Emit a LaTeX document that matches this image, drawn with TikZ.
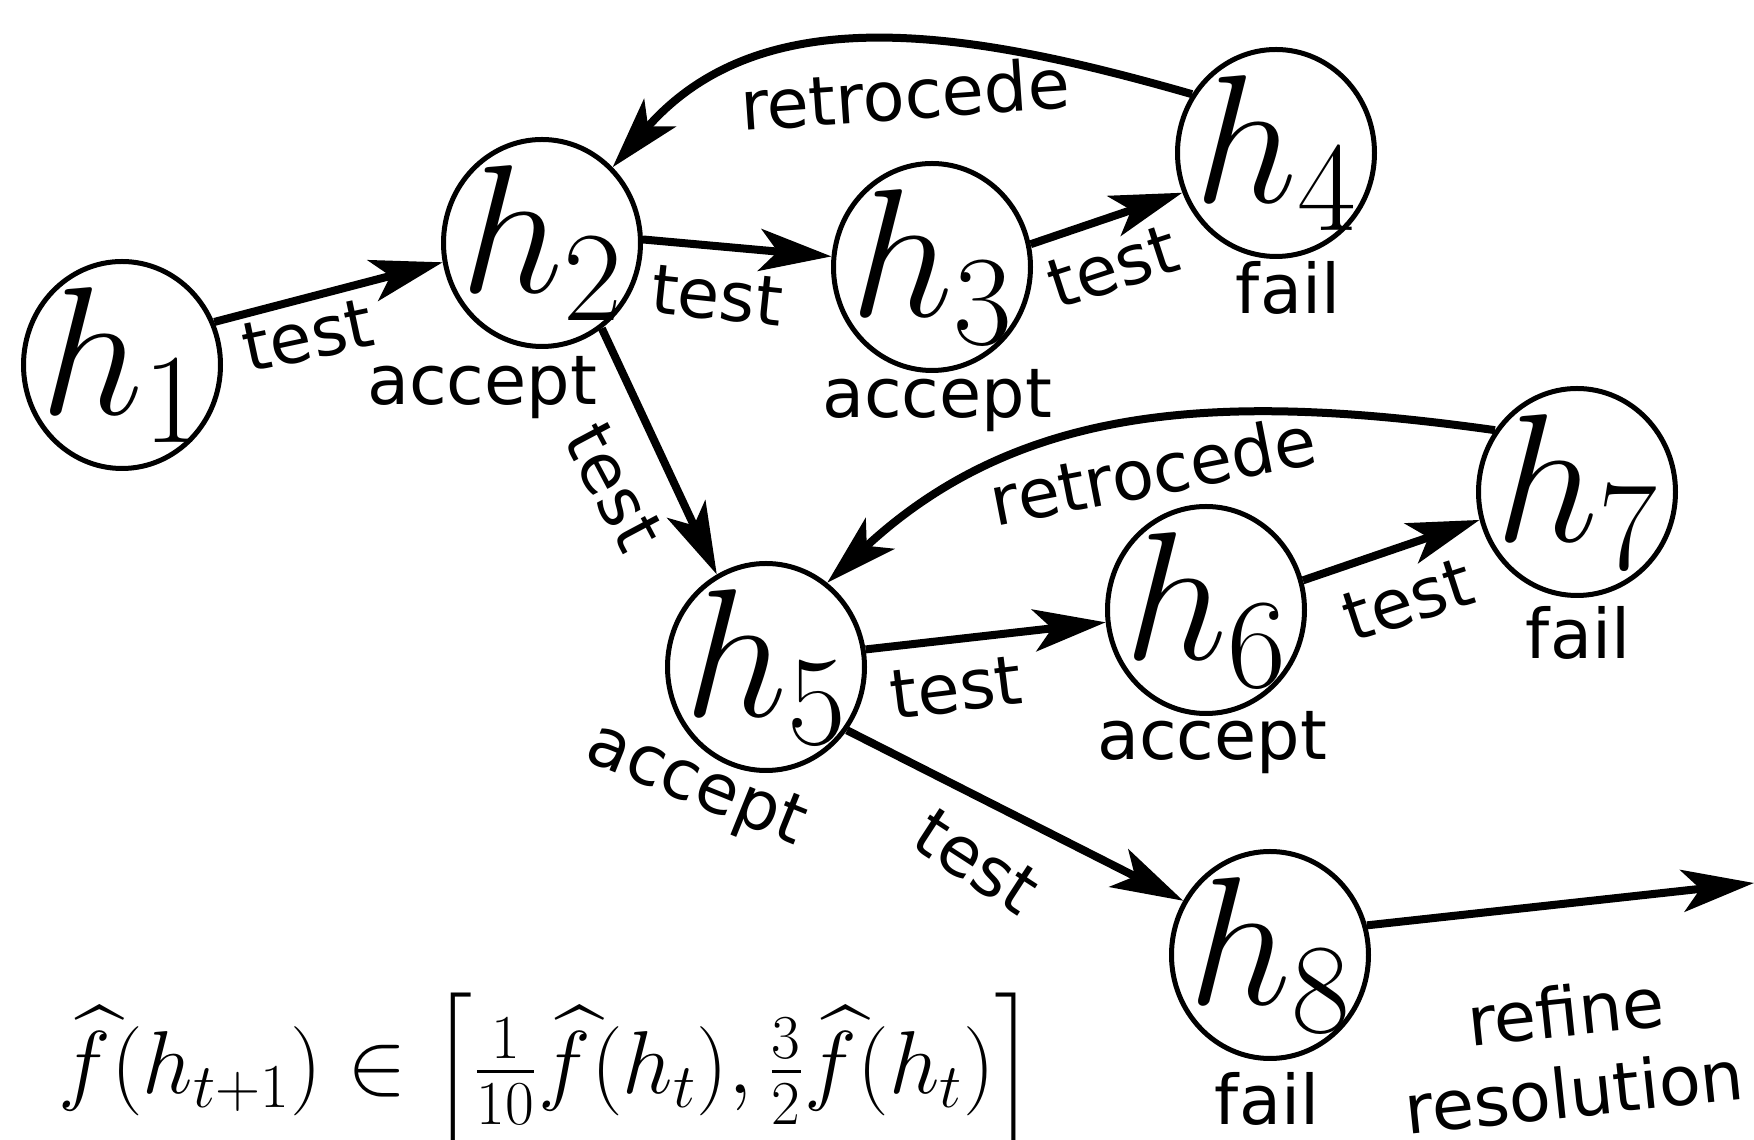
\RequirePackage{fix-cm}
\documentclass[tikz,border=0pt]{standalone}
\usepackage{amsmath}
\usepackage{fontspec}
\newfontfamily\labelfont{DejaVu Sans}
\usepackage{tikz}
\usetikzlibrary{arrows.meta,shapes.geometric}
\newcommand{\hyp}[1]{\makebox[0pt]{\smash{\raisebox{-0.272em}{$h_{#1}$}}}}

\begin{document}
\begin{tikzpicture}[
  state/.style={ellipse,draw,line width=0.05cm,inner sep=0pt,
                minimum width=1.97cm,minimum height=2.07cm,
                font=\fontsize{52}{60}\selectfont},
  lbl/.style={font=\labelfont\fontsize{19.5}{23}\selectfont,inner sep=0pt},
  arr/.style={-{Stealth[length=0.72cm,width=0.42cm,inset=0.18cm]},line width=0.08cm}
]
\useasboundingbox (0,0) rectangle (17.54,11.40);
% hypotheses
\node[state] (h1) at (1.22,7.75) {\hyp{1}};
\node[state] (h2) at (5.42,8.97) {\hyp{2}};
\node[state] (h3) at (9.32,8.73) {\hyp{3}};
\node[state] (h4) at (12.76,9.87) {\hyp{4}};
\node[state] (h5) at (7.66,4.73) {\hyp{5}};
\node[state] (h6) at (12.06,5.30) {\hyp{6}};
\node[state] (h7) at (15.77,6.48) {\hyp{7}};
\node[state] (h8) at (12.70,1.85) {\hyp{8}};
% outcomes
\node[lbl] (a2) at (4.82,7.52) {accept};
\node[lbl] (a3) at (9.37,7.39) {accept};
\node[lbl] (f4) at (12.88,8.52) {fail};
\node[lbl,rotate=-22] (a5) at (6.95,3.53) {accept};
\node[lbl] (a6) at (12.12,3.97) {accept};
\node[lbl] (f7) at (15.78,5.07) {fail};
\node[lbl] (f8) at (12.67,0.41) {fail};
% transitions
\draw[arr] (h1.25) -- (h2.191);
\draw[arr] (h2.2) -- (h3.174);
\draw[arr] (h3.13) -- (h4.203);
\draw[arr] (h2.305) -- (h5.118);
\draw[arr] (h5.10) -- (h6.187);
\draw[arr] (h6.17) -- (h7.196);
\draw[arr] (h5.322) -- (h8.148);
\coordinate (exit) at (17.54,2.57);
\draw[arr] (h8.17) -- (exit);
\draw[arr] (h4.145) to[out=164,in=49] (h2.47);
\draw[arr] (h7.143) to[out=172,in=43] (h5.54);
% edge labels
\node[lbl,rotate=12] (t12) at (3.08,8.04) {test};
\node[lbl,rotate=-6] (t23) at (7.17,8.44) {test};
\node[lbl,rotate=18] (t34) at (11.13,8.73) {test};
\node[lbl,rotate=-62] (t25) at (6.14,6.53) {test};
\node[lbl,rotate=7] (t56) at (9.56,4.52) {test};
\node[lbl,rotate=18] (t67) at (14.08,5.40) {test};
\node[lbl,rotate=-33] (t58) at (9.77,2.78) {test};
\node[lbl,rotate=4] (r42) at (9.05,10.46) {retrocede};
\node[lbl,rotate=11] (r75) at (11.53,6.70) {retrocede};
\node[lbl,rotate=6,align=center] (refine) at (15.70,0.89) {refine\\resolution};
% bound on the step size
\node[anchor=base west,inner sep=0pt,font=\fontsize{25.4}{30}\selectfont] (bound)
 at (0.58,0.46)
 {$\widehat{f}(h_{t+1}) \in \left[\frac{1}{10}\widehat{f}(h_t), \frac{3}{2}\widehat{f}(h_t)\right]$};
\end{tikzpicture}
\end{document}
